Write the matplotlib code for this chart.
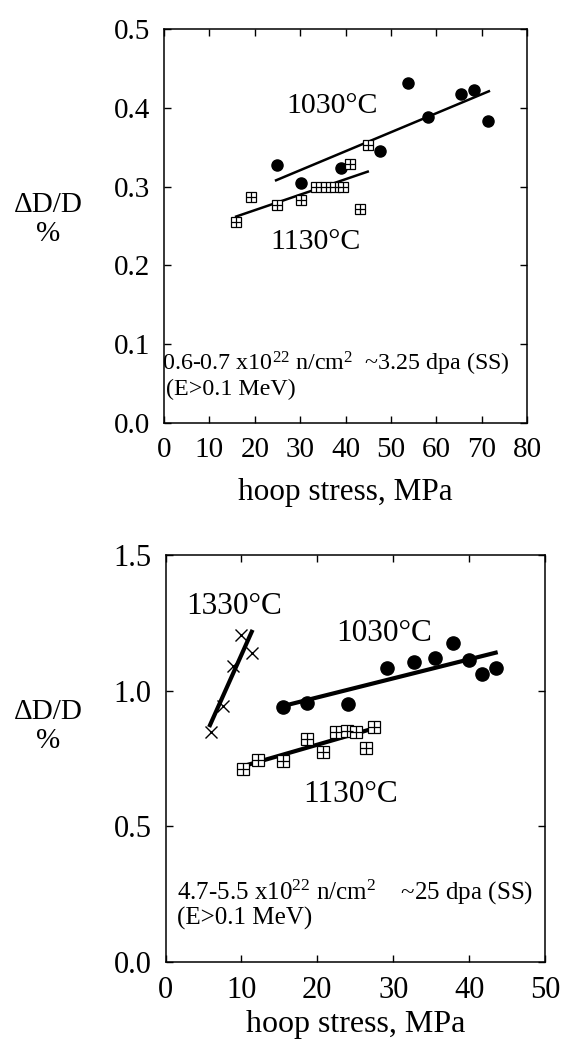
import numpy as np
import matplotlib
matplotlib.use('Agg')
import matplotlib.pyplot as plt

plt.rcParams['font.family'] = ['Liberation Serif', 'DejaVu Serif']
plt.rcParams['mathtext.fontset'] = 'custom'
plt.rcParams['mathtext.rm'] = 'Liberation Serif'
plt.rcParams['mathtext.default'] = 'rm'

# ---------------- top panel: 0.6-0.7 x10^22 n/cm^2 ----------------
top_1030_x = [24.9, 30.3, 39.0, 47.7, 53.7, 58.1, 65.4, 68.3, 71.4]
top_1030_y = [0.327, 0.305, 0.323, 0.345, 0.432, 0.388, 0.417, 0.422, 0.383]
top_1130_x = [15.9, 19.2, 24.8, 30.3, 33.6, 35.6, 37.6, 39.5, 41.0, 43.2, 45.0]
top_1130_y = [0.255, 0.287, 0.277, 0.283, 0.299, 0.299, 0.299, 0.299, 0.329, 0.271, 0.353]
top_fit_1030_x = [24.7, 71.6]
top_fit_1030_y = [0.308, 0.421]
top_fit_1130_x = [15.9, 44.9]
top_fit_1130_y = [0.262, 0.319]

# ---------------- bottom panel: 4.7-5.5 x10^22 n/cm^2 ----------------
bot_1330_x = [5.96, 7.54, 8.93, 9.91, 11.36]
bot_1330_y = [0.849, 0.944, 1.090, 1.207, 1.137]
bot_1030_x = [15.5, 18.7, 24.0, 29.2, 32.7, 35.5, 37.9, 40.0, 41.7, 43.5]
bot_1030_y = [0.938, 0.953, 0.950, 1.084, 1.104, 1.119, 1.176, 1.113, 1.061, 1.084]
bot_1130_x = [10.2, 12.2, 15.5, 18.7, 20.8, 22.5, 23.9, 25.1, 26.4, 27.5]
bot_1130_y = [0.711, 0.744, 0.742, 0.822, 0.773, 0.846, 0.851, 0.846, 0.790, 0.867]
bot_fit_1330_x = [5.86, 11.36]
bot_fit_1330_y = [0.873, 1.217]
bot_fit_1030_x = [16.0, 43.5]
bot_fit_1030_y = [0.947, 1.140]
bot_fit_1130_x = [11.0, 26.7]
bot_fit_1130_y = [0.728, 0.855]

top_xticks = np.arange(0, 81, 10)
top_yticks = [0.0, 0.1, 0.2, 0.3, 0.4, 0.5]
bot_xticks = np.arange(0, 51, 10)
bot_yticks = [0.0, 0.5, 1.0, 1.5]

fig = plt.figure(figsize=(5.62, 10.46), dpi=100)
ax1 = fig.add_axes([164/562, 1-423/1046, 363/562, 394/1046])
ax2 = fig.add_axes([165.5/562, 1-962/1046, 379.5/562, 407/1046])


def style(ax, fs):
    for s in ax.spines.values():
        s.set_linewidth(1.1)
    ax.tick_params(direction='in', top=True, right=True, length=5, width=1,
                   labelsize=fs, pad=10)


def squares(ax, x, y, ms):
    ax.plot(x, y, linestyle='none', marker='s', ms=ms, mfc='white', mec='black',
            mew=0.9, zorder=3)
    ax.plot(x, y, linestyle='none', marker='+', ms=ms, mec='black', mew=0.9, zorder=4)


# top panel
ax1.plot(top_fit_1030_x, top_fit_1030_y, color='black', lw=1.8, zorder=2)
ax1.plot(top_fit_1130_x, top_fit_1130_y, color='black', lw=1.8, zorder=2)
ax1.plot(top_1030_x, top_1030_y, linestyle='none', marker='o', ms=8, color='black', zorder=3)
squares(ax1, top_1130_x, top_1130_y, 7)
ax1.set_xlim(0, 80)
ax1.set_ylim(0, 0.5)
ax1.set_xticks(top_xticks)
ax1.set_yticks(top_yticks)
ax1.set_yticklabels(['%.1f' % v for v in top_yticks])
ax1.set_xlabel('hoop stress, MPa', fontsize=22.5, labelpad=11)
ax1.text(37, 0.402, '1030°C', fontsize=21.5, ha='center', va='center')
ax1.text(33.5, 0.230, '1130°C', fontsize=21.5, ha='center', va='center')
ax1.text(-0.005, 0.150, r'0.6-0.7 x10$^{22}$ n/cm$^{2}$  ~3.25 dpa (SS)', fontsize=17.3,
         transform=ax1.transAxes, ha='left', va='center')
ax1.text(0.005, 0.086, '(E>0.1 MeV)', fontsize=17.3, transform=ax1.transAxes,
         ha='left', va='center')
style(ax1, 21)
fig.text(48/562, 1-205/1046, 'ΔD/D', fontsize=21, ha='center', va='center')
fig.text(48/562, 1-234/1046, '%', fontsize=21, ha='center', va='center')

# bottom panel
ax2.plot(bot_fit_1330_x, bot_fit_1330_y, color='black', lw=3, zorder=2)
ax2.plot(bot_fit_1030_x, bot_fit_1030_y, color='black', lw=3, zorder=2)
ax2.plot(bot_fit_1130_x, bot_fit_1130_y, color='black', lw=3, zorder=2)
ax2.plot(bot_1330_x, bot_1330_y, linestyle='none', marker='x', ms=9, mew=1, color='black', zorder=3)
ax2.plot(bot_1030_x, bot_1030_y, linestyle='none', marker='o', ms=9.5, color='black', zorder=3)
squares(ax2, bot_1130_x, bot_1130_y, 9)
ax2.set_xlim(0, 50)
ax2.set_ylim(0, 1.5)
ax2.set_xticks(bot_xticks)
ax2.set_yticks(bot_yticks)
ax2.set_yticklabels(['%.1f' % v for v in bot_yticks])
ax2.set_xlabel('hoop stress, MPa', fontsize=23, labelpad=4)
ax2.text(9.0, 1.31, '1330°C', fontsize=22.5, ha='center', va='center')
ax2.text(28.8, 1.212, '1030°C', fontsize=22.5, ha='center', va='center')
ax2.text(24.4, 0.619, '1130°C', fontsize=22.5, ha='center', va='center')
ax2.text(0.030, 0.172, r'4.7-5.5 x10$^{22}$ n/cm$^{2}$    ~25 dpa (SS)', fontsize=18,
         transform=ax2.transAxes, ha='left', va='center')
ax2.text(0.030, 0.106, '(E>0.1 MeV)', fontsize=18, transform=ax2.transAxes,
         ha='left', va='center')
style(ax2, 22)
fig.text(48/562, 1-712/1046, 'ΔD/D', fontsize=21, ha='center', va='center')
fig.text(48/562, 1-741/1046, '%', fontsize=21, ha='center', va='center')

fig.savefig('out.png', dpi=100)
